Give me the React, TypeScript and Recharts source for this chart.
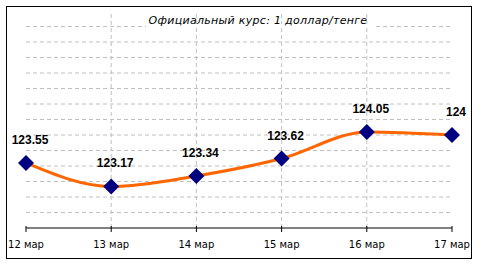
import { LineChart, Line, XAxis, YAxis, ReferenceLine, LabelList } from "recharts";

const dates = ["12 мар", "13 мар", "14 мар", "15 мар", "16 мар", "17 мар"];
const rates = [123.55, 123.17, 123.34, 123.62, 124.05, 124];
const gridValues = [122.75, 123, 123.25, 123.5, 123.75, 124, 124.25, 124.5, 124.75, 125, 125.25, 125.5, 125.75];
const yDomain = [122.5, 126];
const title = "Официальный курс: 1 доллар/тенге";

const data = dates.map((d, i) => ({ date: d, rate: rates[i] }));

const Diamond = (props: any) => {
  const { cx, cy } = props;
  if (cx == null || cy == null) return null;
  const r = 8;
  return (
    <polygon
      points={`${cx},${cy - r} ${cx + r},${cy} ${cx},${cy + r} ${cx - r},${cy}`}
      fill="#000080"
    />
  );
};

const DateTick = (props: any) => {
  const { x, y, payload } = props;
  return (
    <g>
      <line x1={x} x2={x} y1={y - 2} y2={y + 4} stroke="#000" />
      <text
        x={x}
        y={y + 20}
        textAnchor="middle"
        fontFamily="DejaVu Sans"
        fontSize={10}
        fill="#000"
      >
        {payload.value}
      </text>
    </g>
  );
};

const RateLabel = (props: any) => {
  const { x, y, value } = props;
  return (
    <text
      x={x + 4}
      y={y - 19}
      textAnchor="middle"
      fontFamily="Liberation Sans, Arial"
      fontWeight="bold"
      fontSize={12}
      fill="#000"
    >
      {value}
    </text>
  );
};

export default function App() {
  return (
    <div style={{ position: "absolute", left: 0, top: 0, width: 480, height: 266, background: "#fff" }}>
      <div
        style={{
          position: "absolute",
          left: 6,
          top: 6,
          width: 464,
          height: 251,
          border: "1px solid #000",
        }}
      />
      <div style={{ position: "absolute", left: 0, top: 0 }}>
        <LineChart width={480} height={266} data={data} margin={{ top: 11, right: 28, bottom: 8, left: 26 }}>
          <YAxis hide type="number" domain={yDomain} ticks={gridValues} />
          {gridValues.map((v) => (
            <ReferenceLine key={v} y={v} stroke="#c0c0c0" strokeDasharray="4 3" />
          ))}
          {dates.slice(1, -1).map((d) => (
            <ReferenceLine key={d} x={d} stroke="#c0c0c0" strokeDasharray="4 3" />
          ))}
          <XAxis
            dataKey="date"
            axisLine={{ stroke: "#000" }}
            tickLine={false}
            tickSize={0}
            tickMargin={0}
            tick={<DateTick />}
            interval={0}
            padding={{ left: 0, right: 0 }}
          />
          <Line
            type="monotone"
            dataKey="rate"
            stroke="#ff6600"
            strokeWidth={3}
            dot={<Diamond />}
            activeDot={false}
            isAnimationActive={false}
          >
            <LabelList dataKey="rate" content={<RateLabel />} />
          </Line>
        </LineChart>
      </div>
      <div
        style={{
          position: "absolute",
          left: 146,
          top: 24,
          width: 227,
          height: 4,
          background: "#fff",
        }}
      />
      <div
        style={{
          position: "absolute",
          left: 0,
          width: 516,
          top: 14,
          textAlign: "center",
          fontFamily: "DejaVu Sans",
          fontStyle: "italic",
          fontSize: 11,
          letterSpacing: "0.3px",
          lineHeight: "13px",
          color: "#000",
        }}
      >
        {title}
      </div>
    </div>
  );
}
